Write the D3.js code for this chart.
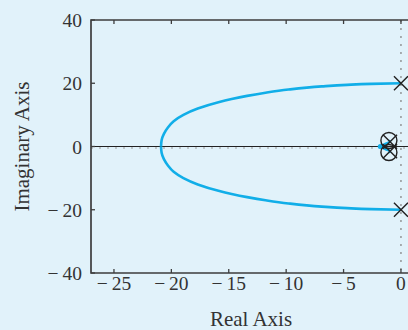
<!DOCTYPE html>
<html><head><meta charset="utf-8">
<script src="https://cdn.jsdelivr.net/npm/d3@7"></script>
<style>html,body{margin:0;padding:0;background:#e1f2fa;overflow:hidden}</style>
</head><body>
<svg id="c" width="408" height="330"></svg>
<script>
const xTicks = [-25, -20, -15, -10, -5, 0];
const yTicks = [-40, -20, 0, 20, 40];
const xLabel = "Real Axis";
const yLabel = "Imaginary Axis";
// upper root-locus branch (real, imag), from break-in point to pole
const upperBranch = [[-20.9,0],[-20.85,2],[-20.65,4],[-20.3,6],[-19.8,8],[-18.95,10],[-17.7,12],[-15.9,14],[-14.75,15],[-13.4,16],[-11.8,17],[-9.8,18],[-6.9,19],[-4.7,19.5],[-2.6,19.8],[0,20]];
const lowerBranch = [[-20.9,0],[-20.85,-2],[-20.65,-4],[-20.3,-6],[-19.8,-8],[-18.95,-10],[-17.7,-12],[-15.9,-14],[-14.75,-15],[-13.4,-16],[-11.8,-17],[-9.8,-18],[-6.9,-19],[-4.7,-19.5],[-2.6,-19.8],[0,-20]];
const smallUpper = [[-1.8,0],[-1.4,0.8],[-0.95,1.5],[-1.05,1.9]];
const smallLower = [[-1.8,0],[-1.4,-0.8],[-0.95,-1.5],[-1.05,-1.9]];
const poles = [[0,20],[0,-20],[-0.95,1.5],[-0.95,-1.5]];
const zeros = [[-1.05,1.9],[-1.05,-1.9]];

const svg = d3.select("#c");
const L = 91, T = 20, B = 273;
const x = d3.scaleLinear().domain([-27, 0.8]).range([L, L + 27.8*11.48]);
const y = d3.scaleLinear().domain([-40, 40]).range([B, T]);
const font = "'Liberation Serif', 'Times New Roman', serif";
const axisCol = "#3d3d3d";
const txt = "#333";
const minus = v => v < 0 ? "\u2212\u2009" + Math.abs(v) : String(v);

// dotted zero lines
svg.append("line").attr("x1", x(0)).attr("x2", x(0)).attr("y1", T).attr("y2", B)
  .attr("stroke", "#888").attr("stroke-width", 1.3).attr("stroke-dasharray", "2,6");
svg.append("line").attr("x1", L).attr("x2", 408).attr("y1", y(0)).attr("y2", y(0))
  .attr("stroke", "#222").attr("stroke-width", 1.2);
svg.append("line").attr("x1", L).attr("x2", 408).attr("y1", y(0)+1.5).attr("y2", y(0)+1.5)
  .attr("stroke", "#999").attr("stroke-width", 1).attr("stroke-dasharray", "2,6");

// frame
svg.append("path").attr("d", `M${x(0.8)},${T}H${L}V${B}H${x(0.8)}`)
  .attr("fill", "none").attr("stroke", axisCol).attr("stroke-width", 1.7);

// ticks
xTicks.forEach(v => {
  svg.append("line").attr("x1", x(v)).attr("x2", x(v)).attr("y1", B).attr("y2", B-4).attr("stroke", axisCol).attr("stroke-width", 1.3);
  svg.append("line").attr("x1", x(v)).attr("x2", x(v)).attr("y1", T).attr("y2", T+4).attr("stroke", axisCol).attr("stroke-width", 1.3);
  svg.append("text").attr("x", x(v)).attr("y", 290).attr("text-anchor", "middle")
    .attr("font-family", font).attr("font-size", 19.5).attr("fill", txt).text(minus(v));
});
yTicks.forEach(v => {
  svg.append("line").attr("x1", L).attr("x2", L+4).attr("y1", y(v)).attr("y2", y(v)).attr("stroke", axisCol).attr("stroke-width", 1.3);
  svg.append("text").attr("x", 82).attr("y", y(v) + 7).attr("text-anchor", "end")
    .attr("font-family", font).attr("font-size", 19.5).attr("fill", txt).text(minus(v));
});
svg.append("text").attr("x", 251).attr("y", 326).attr("text-anchor", "middle")
  .attr("font-family", font).attr("font-size", 21).attr("fill", txt).text(xLabel);
svg.append("text").attr("transform", `translate(29,${y(0)}) rotate(-90)`).attr("text-anchor", "middle")
  .attr("font-family", font).attr("font-size", 21).attr("fill", txt).text(yLabel);

// locus
const line = d3.line().x(d => x(d[0])).y(d => y(d[1])).curve(d3.curveMonotoneY);
const lc = "#11aee8";
[upperBranch, lowerBranch].forEach(b => svg.append("path").attr("d", line(b)).attr("fill", "none").attr("stroke", lc).attr("stroke-width", 2.6));
const sline = d3.line().x(d => x(d[0])).y(d => y(d[1])).curve(d3.curveCatmullRom);
[smallUpper, smallLower].forEach(b => svg.append("path").attr("d", sline(b)).attr("fill", "none").attr("stroke", lc).attr("stroke-width", 2.4));
svg.append("circle").attr("cx", x(-1.8)).attr("cy", y(0)).attr("r", 2.5).attr("fill", lc);

// markers
const s = 7;
poles.forEach(p => {
  svg.append("path").attr("d", `M${x(p[0])-s},${y(p[1])-s}L${x(p[0])+s},${y(p[1])+s}M${x(p[0])-s},${y(p[1])+s}L${x(p[0])+s},${y(p[1])-s}`)
    .attr("stroke", "#222").attr("stroke-width", 1.4).attr("fill", "none");
});
zeros.forEach(p => {
  svg.append("circle").attr("cx", x(p[0])).attr("cy", y(p[1])).attr("r", 8)
    .attr("stroke", "#222").attr("stroke-width", 1.4).attr("fill", "none");
});
</script>
</body></html>
